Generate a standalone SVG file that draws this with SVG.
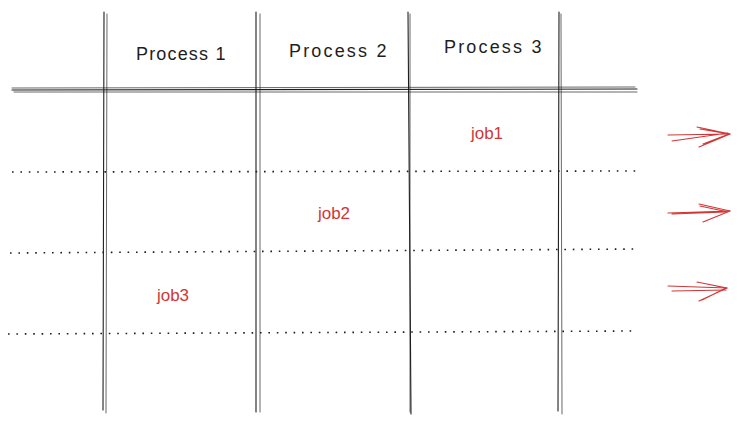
<svg xmlns="http://www.w3.org/2000/svg" width="738" height="425" viewBox="0 0 738 425">
<defs>
<style>
.ln{stroke:#1e1e1e;stroke-width:1.1;fill:none;stroke-linecap:round}
.ln2{stroke:#1e1e1e;stroke-width:0.9;fill:none;opacity:0.75;stroke-linecap:round}
.dot{stroke:#1e1e1e;stroke-width:1.6;fill:none;stroke-dasharray:1.6 6.8}
.hd{font-family:"Liberation Sans","DejaVu Sans",sans-serif;font-size:18px;fill:#1e1e1e;text-anchor:middle;letter-spacing:0.6px}
.job{font-family:"Liberation Sans","DejaVu Sans",sans-serif;font-size:17px;fill:#d03636;text-anchor:middle}
.ar{stroke:#d03636;stroke-width:1.1;fill:none;stroke-linecap:round;stroke-linejoin:round}
</style>
</defs>
<rect width="738" height="425" fill="#ffffff"/>
<g id="grid">
<path class="ln" d="M104 12 L103 410"/><path class="ln2" d="M107 14 L106 413"/>
<path class="ln" d="M256 12 L256 412"/><path class="ln2" d="M260 14 L260 412"/>
<path class="ln" d="M408 12 L411 414"/><path class="ln2" d="M410 14 L410 412"/>
<path class="ln" d="M559 12 L558 411"/><path class="ln2" d="M561 14 L562 414"/>
<path class="ln" d="M12 90 L637 89"/><path class="ln2" d="M12 88 L635 87"/><path class="ln2" d="M14 92 L637 92"/>
</g>
<g id="rows">
<path class="dot" d="M12 172 L637 171"/>
<path class="dot" d="M10 253 L640 249"/>
<path class="dot" d="M8 334 L635 331"/>
</g>
<g id="process1"><text class="hd" x="181" y="60" textLength="90">Process 1</text></g>
<g id="process2"><text class="hd" x="338" y="57" textLength="98">Process 2</text></g>
<g id="process3"><text class="hd" x="493" y="53" textLength="98">Process 3</text></g>
<g id="job1"><text class="job" x="487" y="139">job1</text></g>
<g id="job2"><text class="job" x="334" y="219">job2</text></g>
<g id="job3"><text class="job" x="173" y="301">job3</text></g>
<g id="connectors">
<path class="ar" d="M668 135 L730 134 M672 141 L728 133"/>
<path class="ar" d="M697 127 L730 134 L699 147 M700 129 L729 134 L703 144"/>
<path class="ar" d="M668 213 L730 211 M672 214 L726 212"/>
<path class="ar" d="M699 204 L730 211 L703 222 M700 206 L728 212"/>
<path class="ar" d="M668 286 L727 288 M672 291 L726 290"/>
<path class="ar" d="M697 282 L727 288 L699 301 M702 283 L726 288 L702 300"/>
</g>
</svg>
